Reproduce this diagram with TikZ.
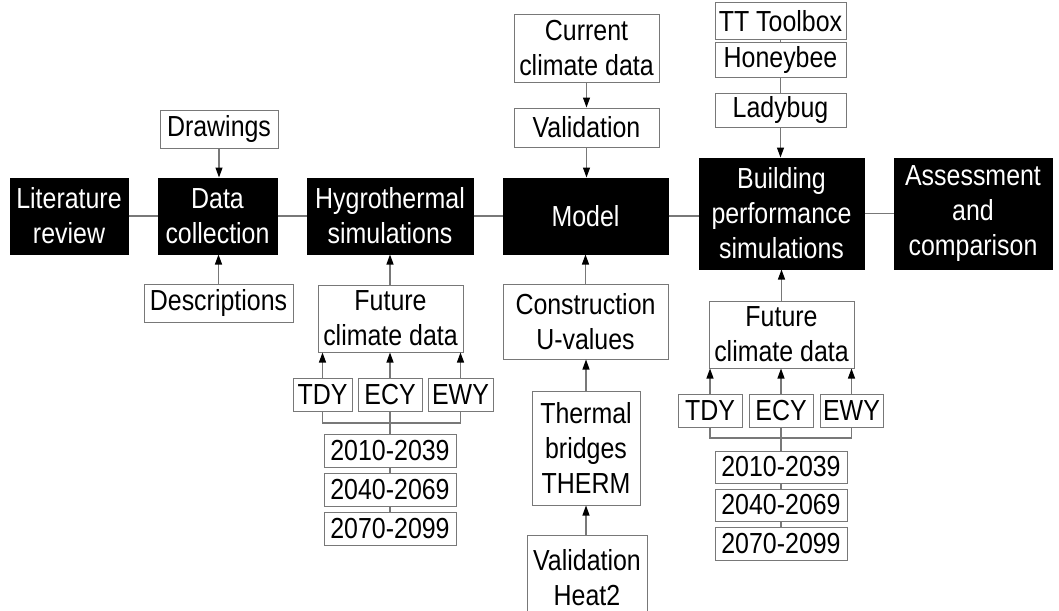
\documentclass[tikz,border=0pt]{standalone}
\usepackage{fontspec}
\setmainfont{Liberation Sans}[FakeStretch=0.86]
\usetikzlibrary{arrows.meta}
\definecolor{lgray}{RGB}{120,120,120}
\tikzset{
  base/.style={font=\fontsize{29}{35}\selectfont, align=center, inner sep=0pt, line width=1pt},
  bbox/.style={base, fill=black, draw=black, text=white},
  wbox/.style={base, draw=lgray, fill=white, text=black},
  conn/.style={draw=lgray, line width=1.2pt},
  arr/.style={conn, -{Triangle[length=10pt,width=7pt,black]}},
  sz/.style 2 args={minimum width=#1pt, minimum height=#2pt}
}
\begin{document}
\begin{tikzpicture}[x=1pt, y=-1pt]
\useasboundingbox[fill=white] (0,0) rectangle (1059,610);
% main row
\node[bbox, sz={118}{76}] (lit) at (69,216) {Literature\\review};
\node[bbox, sz={119}{76}] (dc) at (217.5,216) {Data\\collection};
\node[bbox, sz={166}{76}] (hyg) at (390,216) {Hygrothermal\\simulations};
\node[bbox, sz={165}{76}] (model) at (585.5,216) {Model};
\node[bbox, sz={165}{111}] (bps) at (781.5,213.5) {Building\\performance\\simulations};
\node[bbox, sz={158}{111}] (ass) at (973,213.5) {Assessment\\and\\comparison};
% data collection inputs
\node[wbox, sz={118}{38}] (draw) at (219,129) {Drawings};
\node[wbox, sz={149}{38}] (desc) at (218.5,303) {Descriptions};
% hygrothermal inputs
\node[wbox, sz={145}{67}] (fcd1) at (390.5,318.5) {Future\\climate data};
\node[wbox, sz={59}{33}] (tdy1) at (322.5,394.5) {TDY};
\node[wbox, sz={64}{33}] (ecy1) at (390,394.5) {ECY};
\node[wbox, sz={65}{33}] (ewy1) at (460.5,394.5) {EWY};
\node[wbox, sz={132}{33}] (y1a) at (390,450.5) {2010-2039};
\node[wbox, sz={132}{33}] (y1b) at (390,489.5) {2040-2069};
\node[wbox, sz={132}{33}] (y1c) at (390,528.5) {2070-2099};
\coordinate (br1) at (390,423);
% model inputs
\node[wbox, sz={145}{67}] (ccd) at (586.5,48.5) {Current\\climate data};
\node[wbox, sz={145}{39}] (val) at (586.5,127.5) {Validation};
\node[wbox, sz={165}{75}] (cuv) at (585.5,321.5) {Construction\\U-values};
\node[wbox, sz={108}{114}] (tb) at (586,448) {Thermal\\bridges\\THERM};
\node[wbox, sz={120}{85}] (heat) at (587,577.5) {Validation\\Heat2};
% bps inputs
\node[wbox, sz={131}{37}] (tt) at (780.5,21.5) {TT Toolbox};
\node[wbox, sz={131}{34}] (hb) at (780.5,60) {Honeybee};
\node[wbox, sz={131}{34}] (lb) at (780.5,110) {Ladybug};
\node[wbox, sz={145}{67}] (fcd2) at (781.5,334.5) {Future\\climate data};
\node[wbox, sz={64}{33}] (tdy2) at (710,410.5) {TDY};
\node[wbox, sz={64}{33}] (ecy2) at (781,410.5) {ECY};
\node[wbox, sz={63}{33}] (ewy2) at (851.5,410.5) {EWY};
\node[wbox, sz={132}{32}] (y2a) at (781,467) {2010-2039};
\node[wbox, sz={132}{32}] (y2b) at (781,505) {2040-2069};
\node[wbox, sz={132}{33}] (y2c) at (781,543.5) {2070-2099};
\coordinate (br2) at (781,438);
% main row connectors
\draw[conn] (lit) -- (dc);
\draw[conn] (dc) -- (hyg);
\draw[conn] (hyg) -- (model);
\draw[conn] (model.east) -- (model.east -| bps.west);
\draw[conn] (bps) -- (ass);
% data collection
\draw[arr] (draw.south) -- (draw.south |- dc.north);
\draw[arr] (desc.north) -- (desc.north |- dc.south);
% hygrothermal
\draw[arr] (fcd1.north -| hyg.south) -- (hyg.south);
\draw[arr] (tdy1.north) -- (tdy1.north |- fcd1.south);
\draw[arr] (ecy1.north) -- (ecy1.north |- fcd1.south);
\draw[arr] (ewy1.north) -- (ewy1.north |- fcd1.south);
\draw[conn] (tdy1.south) |- (br1) -| (ewy1.south);
\draw[conn] (ecy1.south) -- (y1a.north);
\draw[conn] (y1a) -- (y1b);
\draw[conn] (y1b) -- (y1c);
% model
\draw[arr] (ccd.south) -- (val.north);
\draw[arr] (val.south) -- (val.south |- model.north);
\draw[arr] (cuv.north) -- (model.south);
\draw[arr] (tb.north) -- (tb.north |- cuv.south);
\draw[arr] (heat.north -| tb.south) -- (tb.south);
% bps
\draw[conn] (tt) -- (hb);
\draw[conn] (hb) -- (lb);
\draw[arr] (lb.south) -- (lb.south |- bps.north);
\draw[arr] (fcd2.north -| bps.south) -- (bps.south);
\draw[arr] (tdy2.north) -- (tdy2.north |- fcd2.south);
\draw[arr] (ecy2.north) -- (ecy2.north |- fcd2.south);
\draw[arr] (ewy2.north) -- (ewy2.north |- fcd2.south);
\draw[conn] (tdy2.south) |- (br2) -| (ewy2.south);
\draw[conn] (ecy2.south) -- (y2a.north);
\draw[conn] (y2a) -- (y2b);
\draw[conn] (y2b) -- (y2c);
\end{tikzpicture}
\end{document}
